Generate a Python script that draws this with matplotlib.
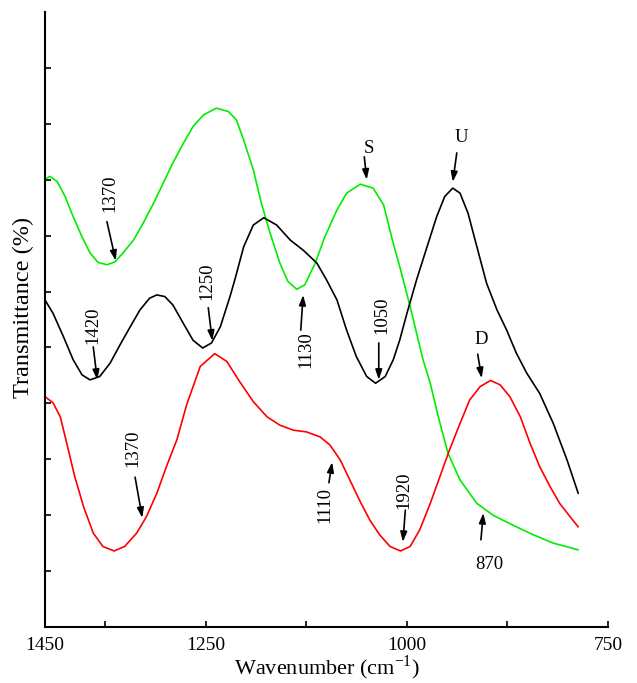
import numpy as np
import matplotlib
matplotlib.use("Agg")
import matplotlib.pyplot as plt

plt.rcParams['font.family'] = ['Liberation Serif', 'DejaVu Serif']
plt.rcParams['mathtext.fontset'] = 'custom'
plt.rcParams['mathtext.rm'] = 'Liberation Serif'

# Courbe S (verte)
s_wave = [1450, 1444, 1435, 1425, 1415, 1404, 1394, 1384, 1373, 1363, 1353, 1340,
          1328, 1315, 1303, 1291, 1278, 1266, 1253, 1237, 1222, 1212, 1203, 1191,
          1181, 1170, 1158, 1148, 1137, 1127, 1114, 1102, 1087, 1075, 1058, 1042,
          1029, 1017, 1009, 996, 980, 971, 961, 949, 934, 913, 893, 868, 843, 818, 787]
s_trans = [80.1, 80.6, 79.7, 77.0, 73.4, 69.8, 66.9, 65.2, 64.8, 65.3, 66.9, 69.2,
           72.2, 75.8, 79.4, 83.0, 86.5, 89.5, 91.6, 92.8, 92.2, 90.7, 87.1, 81.8,
           75.8, 70.4, 65.1, 61.8, 60.4, 61.2, 65.1, 69.8, 74.6, 77.6, 79.2, 78.5,
           75.5, 68.6, 64.5, 57.3, 47.8, 43.6, 37.6, 31.1, 26.3, 22.1, 20.0, 18.2,
           16.5, 15.0, 13.8]

# Courbe U (noire)
u_wave = [1450, 1440, 1427, 1415, 1404, 1394, 1382, 1369, 1357, 1344, 1332, 1320,
          1311, 1301, 1291, 1278, 1266, 1254, 1243, 1232, 1220, 1214, 1203, 1191,
          1178, 1162, 1145, 1129, 1112, 1100, 1087, 1075, 1063, 1050, 1039, 1027,
          1017, 1009, 1000, 988, 975, 963, 953, 943, 934, 924, 913, 901, 888, 876,
          864, 851, 835, 818, 801, 787]
u_trans = [58.5, 56.1, 51.9, 47.8, 45.1, 44.2, 44.8, 47.2, 50.4, 53.7, 56.7, 58.8,
           59.4, 59.1, 57.6, 54.3, 51.3, 49.9, 50.8, 53.7, 59.1, 62.1, 68.0, 71.9,
           73.2, 71.9, 69.2, 67.4, 65.1, 62.1, 58.5, 53.1, 48.4, 44.8, 43.6, 44.8,
           47.8, 51.3, 56.1, 62.1, 68.0, 73.4, 77.0, 78.5, 77.6, 74.0, 68.0, 61.5,
           56.7, 53.1, 49.0, 45.4, 41.8, 36.4, 29.9, 23.9]

# Courbe D (vermelha)
d_wave = [1450, 1440, 1431, 1423, 1413, 1402, 1390, 1378, 1364, 1351, 1336, 1324,
          1311, 1299, 1286, 1274, 1257, 1239, 1224, 1208, 1191, 1174, 1158, 1141,
          1125, 1108, 1096, 1083, 1071, 1058, 1046, 1034, 1021, 1008, 996, 984,
          971, 959, 947, 934, 922, 909, 896, 884, 872, 859, 847, 835, 822, 810,
          797, 787]
d_trans = [41.2, 40.1, 37.6, 32.9, 26.9, 21.5, 16.8, 14.4, 13.6, 14.4, 16.8, 19.7,
           23.9, 28.7, 33.5, 39.7, 46.6, 48.9, 47.5, 43.9, 40.3, 37.6, 36.1, 35.2,
           34.9, 34.0, 32.6, 29.9, 26.3, 22.4, 19.1, 16.5, 14.4, 13.6, 14.4, 17.4,
           22.1, 26.9, 31.7, 36.4, 40.6, 43.0, 44.1, 43.3, 41.2, 37.6, 32.9, 28.7,
           25.1, 22.1, 19.7, 17.9]

# Anotações: texto, posição do texto, cauda e ponta da seta, rotação
anotacoes = [
    ("1370", (1369, 77.6), (1373, 72.5), (1362, 65.5), 90),
    ("1420", (1390, 54.0), (1390, 50.1), (1385, 44.2), 90),
    ("1250", (1249, 61.9), (1247, 57.1), (1242, 51.2), 90),
    ("1130", (1125, 49.6), (1132, 53.1), (1129, 59.4), 90),
    ("1050", (1031, 55.7), (1035, 50.8), (1035, 44.2), 90),
    ("S", (1047, 85.6), (1053, 84.1), (1050, 80.0), 0),
    ("U", (932, 87.6), (938, 84.8), (943, 79.6), 0),
    ("D", (908, 51.5), (912, 48.8), (907, 44.5), 0),
    ("1370", (1341, 31.9), (1338, 26.8), (1329, 19.5), 90),
    ("1110", (1102, 21.9), (1097, 25.8), (1093, 29.5), 90),
    ("1920", (1004, 24.4), (1002, 20.9), (1005, 15.2), 90),
    ("870", (897, 11.2), (908, 15.6), (905, 20.4), 0),
]

x_ticks = [1450, 1375, 1250, 1125, 1000, 875, 750]
x_tick_labels = ["1450", "", "1250", "", "1000", "", "750"]

fig = plt.figure(figsize=(6.37, 6.83), dpi=100)
ax = fig.add_axes([45/637, 56/683, 563/637, 615/683])

estilo = dict(lw=1.2, solid_joinstyle='round', solid_capstyle='round')
ax.plot(s_wave, s_trans, color='#00ee00', **estilo)
ax.plot(u_wave, u_trans, color='black', **estilo)
ax.plot(d_wave, d_trans, color='#ff0000', **estilo)

for texto, pos, cauda, ponta, rot in anotacoes:
    ax.annotate("", xy=ponta, xytext=cauda,
                arrowprops=dict(arrowstyle='-|>,head_length=0.6,head_width=0.2',
                                color='black', lw=1.2, shrinkA=0, shrinkB=0))
    ax.text(pos[0], pos[1], texto, rotation=rot, ha='center', va='center', fontsize=13.5)

ax.set_xlim(1450, 750)
ax.set_ylim(0, 110)
ax.set_xticks(x_ticks)
ax.set_xticklabels(x_tick_labels)
ax.set_yticks(np.arange(10, 110, 10))
ax.set_yticklabels([])
ax.tick_params(direction='in', length=4, width=1.2, labelsize=14)
ax.tick_params(axis='x', pad=7)

for lado in ['top', 'right']:
    ax.spines[lado].set_visible(False)
for lado in ['left', 'bottom']:
    ax.spines[lado].set_linewidth(1.5)

ax.set_xlabel("Wavenumber (cm$^{-1}$)", fontsize=16, labelpad=0)
ax.set_ylabel("Transmittance (%)", fontsize=17.5)
ax.yaxis.set_label_coords(-0.02, 0.52)

fig.savefig("out.png", dpi=100)
